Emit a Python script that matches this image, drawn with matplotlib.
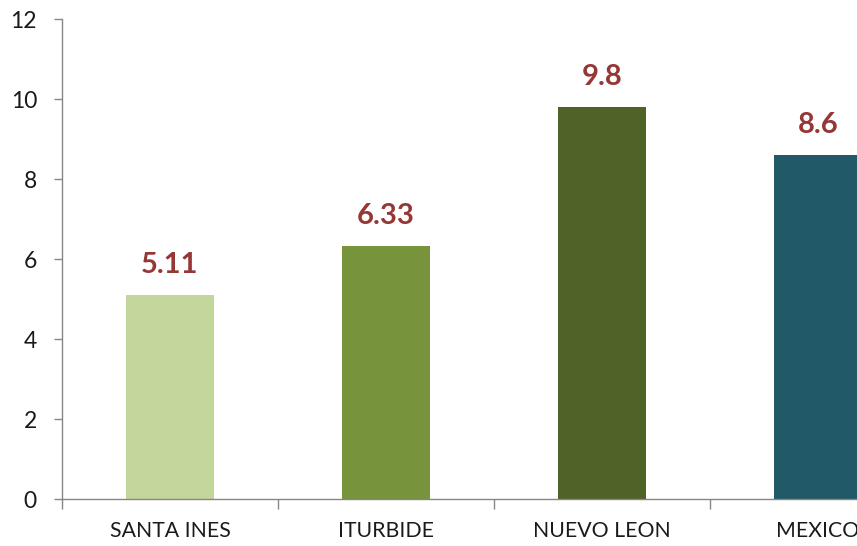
import matplotlib
matplotlib.use("Agg")
import matplotlib.pyplot as plt
import numpy as np

categories = ["SANTA INES", "ITURBIDE", "NUEVO LEON", "MEXICO"]
values = [5.11, 6.33, 9.8, 8.6]
value_labels = ["5.11", "6.33", "9.8", "8.6"]
colors = ["#C3D69B", "#77933C", "#4F6228", "#215968"]
yticks = [0, 2, 4, 6, 8, 10, 12]

plt.rcParams['font.family'] = ['Lato', 'DejaVu Sans']

W, H = 857, 546
fig = plt.figure(figsize=(W / 100, H / 100), dpi=100)
left_px, right_px, top_px, bottom_px = 62, 926, 19, 499
ax = fig.add_axes([left_px / W, 1 - bottom_px / H, (right_px - left_px) / W, (bottom_px - top_px) / H])

x = np.arange(len(categories))
ax.bar(x, values, width=0.41, color=colors, zorder=2)
for xi, v, lab in zip(x, values, value_labels):
    ax.annotate(lab, (xi, v), xytext=(0, 12), textcoords="offset points",
                ha="center", va="bottom", fontsize=21, fontweight="bold", color="#953735")

ax.set_xlim(-0.5, len(categories) - 0.5)
ax.set_ylim(0, 12)
ax.set_yticks(yticks)
ax.set_yticklabels([str(t) for t in yticks])

ax.set_xticks(np.arange(len(categories) + 1) - 0.5)
ax.set_xticklabels([])
ax.set_xticks(x, minor=True)
ax.set_xticklabels(categories, minor=True)
ax.tick_params(axis="x", which="minor", length=0, pad=16, labelsize=15.3, labelcolor="#1a1a1a")
ax.tick_params(axis="x", which="major", length=7, width=1, color="#868686", direction="out")
ax.tick_params(axis="y", length=6, width=1, color="#868686", pad=12, labelsize=16.5, labelcolor="#1a1a1a")

for s in ["top", "right"]:
    ax.spines[s].set_visible(False)
for s in ["left", "bottom"]:
    ax.spines[s].set_color("#868686")
    ax.spines[s].set_linewidth(1)

fig.savefig("out.png", dpi=100)
